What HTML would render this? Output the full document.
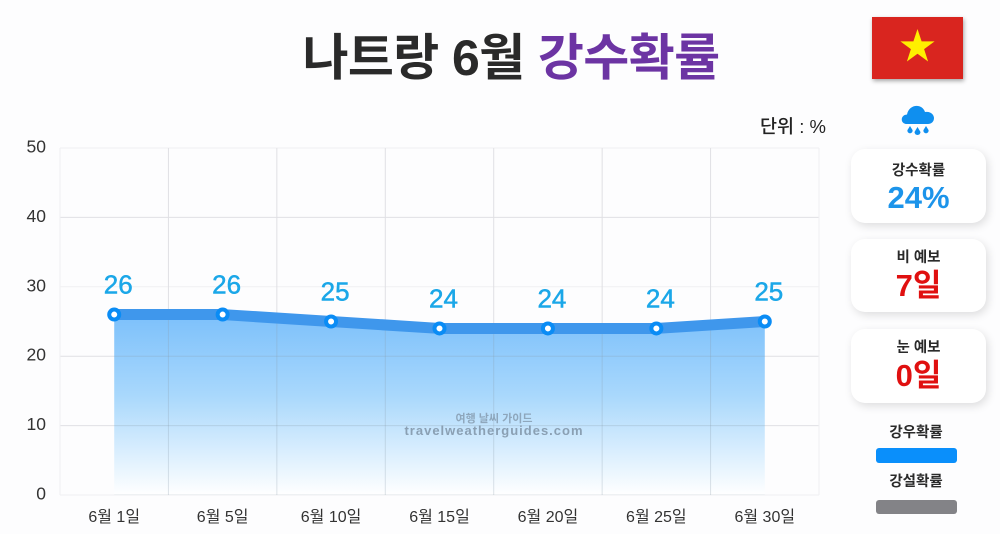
<!DOCTYPE html>
<html lang="ko">
<head>
<meta charset="utf-8">
<title>나트랑 6월 강수확률</title>
<style>
html,body{margin:0;padding:0;background:#fdfdfe;}
#page{position:relative;width:1000px;height:534px;overflow:hidden;background:#fdfdfe;font-family:"Liberation Sans","Noto Sans CJK KR",sans-serif;color:#222;}
svg text{font-family:"Liberation Sans","Noto Sans CJK KR",sans-serif;}
.abs{position:absolute;white-space:nowrap;text-align:center;}
.card{position:absolute;left:851px;width:135px;background:#fff;border-radius:14px;box-shadow:2px 3px 9px rgba(0,0,0,.13);text-align:center;}
.card .t{position:absolute;left:0;right:0;font-size:14.500px;font-weight:700;color:#2a2a2a;line-height:18px;}
.card .v{position:absolute;left:0;right:0;font-size:31px;font-weight:700;line-height:36px;}
</style>
</head>
<body>
<div id="page">
  <div class="abs" style="left:261px;width:500px;top:25px;font-size:50px;font-weight:700;line-height:66px;letter-spacing:-.6px;color:#2a2a2a;">나트랑 6월 <span style="color:#6c34a3;">강수확률</span></div>

  <svg style="position:absolute;left:872px;top:17px;filter:drop-shadow(1px 2px 2px rgba(0,0,0,.35));" width="91" height="62" viewBox="0 0 91 62">
    <rect width="91" height="62" fill="#d9251f"/>
    <polygon points="45.5,12 49.6,24.400 62.600,24.400 52.100,32.100 56.100,44.500 45.500,36.800 34.900,44.500 38.900,32.100 28.400,24.400 41.400,24.400" fill="#ffef00"/>
  </svg>

  <svg style="position:absolute;left:900px;top:104px;" width="36" height="33" viewBox="0 0 36 33">
    <path d="M7 20 C0 20 0 11 7 10.500 C9 0 22 -1 25 8 C31 7 34 11 34 14 C34 18 31 20 28 20 Z" fill="#0f8fef"/>
    <path d="M10 22 L12.500 26 A2.600 2.600 0 1 1 7.500 26 Z" fill="#0f8fef"/>
    <path d="M17.500 23 L20.500 28 A3 3 0 1 1 14.500 28 Z" fill="#0f8fef"/>
    <path d="M26 22 L28.500 26 A2.600 2.600 0 1 1 23.500 26 Z" fill="#0f8fef"/>
  </svg>

  <div class="abs" style="left:743px;width:100px;top:116px;font-size:18.500px;font-weight:500;line-height:22px;color:#222;">단위 : %</div>

  <svg id="chart" style="position:absolute;left:0;top:0;" width="845" height="534" viewBox="0 0 845 534">
    <defs>
      <linearGradient id="areaFill" x1="0" y1="0" x2="0" y2="1">
        <stop offset="0" stop-color="#7cc0fb"/>
        <stop offset="0.45" stop-color="#a9d8fc"/>
        <stop offset="1" stop-color="#ffffff"/>
      </linearGradient>
      <clipPath id="areaClip"><path id="areaClipPath"></path></clipPath>
    </defs>
    <g id="grid"></g>
    <path id="area" fill="url(#areaFill)"></path>
    <g id="gridOver" clip-path="url(#areaClip)"></g>
    <path id="line" fill="none" stroke="#3f97ec" stroke-width="11" stroke-linejoin="round"></path>
    <g id="points"></g>
    <g id="labels"></g>
    <g id="yticks"></g>
    <g id="xticks"></g>
    <text x="494" y="422" text-anchor="middle" font-size="11" font-weight="700" fill="#7f93a6" fill-opacity=".75">여행 날씨 가이드</text>
    <text x="494" y="435" text-anchor="middle" font-size="13" font-weight="700" letter-spacing="1" fill="#7f93a6" fill-opacity=".85">travelweatherguides.com</text>
  </svg>

  <div class="card" style="top:149px;height:74px;">
    <div class="t" style="top:13px;">강수확률</div>
    <div class="v" style="top:31px;color:#1c94ea;">24%</div>
  </div>
  <div class="card" style="top:239px;height:73px;">
    <div class="t" style="top:10px;">비 예보</div>
    <div class="v" style="top:29px;color:#e01010;">7일</div>
  </div>
  <div class="card" style="top:329px;height:74px;">
    <div class="t" style="top:10px;">눈 예보</div>
    <div class="v" style="top:29px;color:#e01010;">0일</div>
  </div>

  <div class="abs" style="left:866px;width:100px;top:424px;font-size:14.500px;font-weight:700;line-height:18px;color:#2a2a2a;">강우확률</div>
  <div style="position:absolute;left:876px;top:448px;width:81px;height:15px;background:#0a8ffb;border-radius:3px;"></div>
  <div class="abs" style="left:866px;width:100px;top:473px;font-size:14.500px;font-weight:700;line-height:18px;color:#2a2a2a;">강설확률</div>
  <div style="position:absolute;left:876px;top:500px;width:81px;height:14px;background:#838387;border-radius:3px;"></div>
</div>

<script>
var categories = ['6월 1일','6월 5일','6월 10일','6월 15일','6월 20일','6월 25일','6월 30일'];
var rainValues = [26,26,25,24,24,24,25];
var yTickValues = [0,10,20,30,40,50];

var NS = 'http://www.w3.org/2000/svg';
var plotLeft = 60, plotRight = 819, plotTop = 148, plotBottom = 495, yMax = 50;
var band = (plotRight - plotLeft) / categories.length;
function xScale(i){ return plotLeft + band * (i + 0.5); }
function yScale(v){ return plotBottom - (v / yMax) * (plotBottom - plotTop); }
function make(tag, attrs, parent, text){
  var el = document.createElementNS(NS, tag);
  for (var k in attrs) el.setAttribute(k, attrs[k]);
  if (text !== undefined) el.textContent = text;
  parent.appendChild(el);
  return el;
}

var grid = document.getElementById('grid');
var gridOver = document.getElementById('gridOver');
var yticks = document.getElementById('yticks');
var xticks = document.getElementById('xticks');
var points = document.getElementById('points');
var labels = document.getElementById('labels');

yTickValues.forEach(function(t){
  var y = yScale(t);
  var isEdge = t === 0 || t === yMax || t === 30;
  var gl = make('line', {x1:plotLeft, x2:plotRight, y1:y, y2:y, stroke:isEdge ? '#f0f0f2' : '#e0e0e4', 'stroke-width':1}, grid);
  
  
  var gl2 = make('line', {x1:plotLeft, x2:plotRight, y1:y, y2:y, stroke:'#8a9aa8', 'stroke-opacity':.28, 'stroke-width':1}, gridOver);
  
  
  var tl = make('text', {x:46, y:y + 4.500, 'text-anchor':'end', 'font-size':17.500, fill:'#333'}, yticks, String(t));
  
  
});

for (var g = 0; g <= categories.length; g++){
  var gx = plotLeft + band * g;
  var isSide = g === 0 || g === categories.length;
  var vl = make('line', {x1:gx, x2:gx, y1:plotTop, y2:plotBottom, stroke:isSide ? '#f0f0f2' : '#e0e0e4', 'stroke-width':1}, grid);
  
  
  var vl2 = make('line', {x1:gx, x2:gx, y1:plotTop, y2:plotBottom, stroke:'#8a9aa8', 'stroke-opacity':.28, 'stroke-width':1}, gridOver);
  
  
}

var linePath = rainValues.map(function(v, i){ return (i ? 'L' : 'M') + xScale(i) + ' ' + yScale(v); }).join(' ');
var areaPath = linePath + ' L' + xScale(rainValues.length - 1) + ' ' + plotBottom + ' L' + xScale(0) + ' ' + plotBottom + ' Z';
document.getElementById('line').setAttribute('d', linePath);
document.getElementById('area').setAttribute('d', areaPath);
document.getElementById('areaClipPath').setAttribute('d', areaPath);

rainValues.forEach(function(v, i){
  var c = make('circle', {cx:xScale(i), cy:yScale(v), r:5, fill:'#fff', stroke:'#0a8cf5', 'stroke-width':4}, points);
  
  
  var t = make('text', {x:xScale(i) + 4, y:yScale(v) - 21, 'text-anchor':'middle', 'font-size':26, 'font-weight':400, fill:'#1ba7e8', stroke:'#1ba7e8', 'stroke-width':.5}, labels, String(v));
  
  
});

categories.forEach(function(c, i){
  var t = make('text', {x:xScale(i), y:522, 'text-anchor':'middle', 'font-size':16, fill:'#333'}, xticks, c);
  
  
});
</script>
</body>
</html>
